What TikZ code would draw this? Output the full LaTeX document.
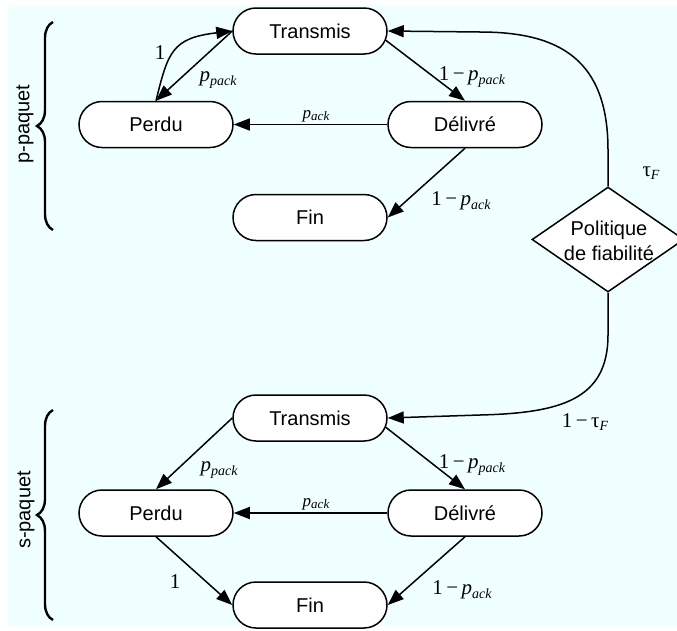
\documentclass[tikz,border=0pt]{standalone}
\usepackage{fontspec}
\setmainfont{Liberation Sans}
\newfontfamily\tms{Liberation Serif}
\usetikzlibrary{shapes.misc,shapes.geometric,arrows.meta,decorations.pathreplacing}

\definecolor{bgcyan}{HTML}{F0FFFF}

% probability labels: italic p with a lowered italic subscript
\newcommand\subs[1]{\raisebox{-0.35ex}{\fontsize{14}{14}\selectfont\itshape #1}}
\newcommand\smallsubs[1]{\raisebox{-0.3ex}{\fontsize{13}{13}\selectfont\itshape #1}}
\newcommand\pp[1]{{\itshape p}\subs{#1}}
\newcommand\tauF{τ\subs{F}}

\tikzset{
  state/.style={draw, line width=1.5pt, rounded rectangle, fill=white,
    minimum width=154, minimum height=46, inner sep=0pt,
    font=\fontsize{20}{24}\selectfont},
  policy/.style={draw, line width=1.5pt, diamond, fill=white,
    minimum width=152, minimum height=105, inner sep=0pt},
  policytext/.style={inner sep=0pt, align=center,
    font=\fontsize{20}{25}\selectfont},
  arr/.style={line width=1.5pt, -{Triangle[length=16,width=12]}},
  lbl/.style={inner sep=0pt, font=\tms\fontsize{21}{24}\selectfont},
  slbl/.style={inner sep=0pt, font=\tms\fontsize{17}{18}\selectfont},
  bracestyle/.style={line width=2.4pt, decorate, decoration={brace, amplitude=16}},
  grouplabel/.style={rotate=90, inner sep=0pt, font=\fontsize{20}{24}\selectfont}
}

\begin{document}
\begin{tikzpicture}[x=1pt, y=-1pt]
  \useasboundingbox (0,0) rectangle (677,630);
  \fill[bgcyan] (8,5) rectangle (677,626);

  % ---- p-paquet group ----
  \node[state] (T1) at (310,31)    {Transmis};
  \node[state] (P1) at (156,124.5) {Perdu};
  \node[state] (D1) at (465,124.5) {Délivré};
  \node[state] (F1) at (310,217.5) {Fin};

  % ---- s-paquet group ----
  \node[state] (T2) at (310,418) {Transmis};
  \node[state] (P2) at (156,513) {Perdu};
  \node[state] (D2) at (465,513) {Délivré};
  \node[state] (F2) at (310,605) {Fin};

  % ---- reliability policy ----
  \node[policy] (pol) at (608,239.5) {};
  \node[policytext] (poltxt) at (609,241) {Politique\\de fiabilité};

  % ---- group braces ----
  \coordinate (b1top) at (53,22);
  \coordinate (b1bot) at (53,230);
  \coordinate (b2top) at (53,410);
  \coordinate (b2bot) at (53,620);
  \draw[bracestyle] (b1bot) -- (b1top);
  \draw[bracestyle] (b2bot) -- (b2top);
  \node[grouplabel] (gp) at (25,124) {p-paquet};
  \node[grouplabel] (gs) at (26,510) {s-paquet};

  % ---- transitions, p-paquet ----
  \draw[arr] (T1.west) -- (P1.north);
  \draw[arr] (P1.north) .. controls (168,52) and (172,38) .. (T1.west);
  \draw[arr] (T1.-7) -- (D1.north);
  \draw[arr] (D1.west) -- (P1.east);
  \draw[arr] (D1.south) -- (F1.east);

  \node[lbl]  (l1)  at (160,53)  {1};
  \node[lbl]  (l2)  at (218,80)  {\pp{pack}};
  \node[lbl]  (l3)  at (472,77)  {1\,−\,\pp{pack}};
  \node[slbl] (l4)  at (316,116) {{\itshape p}\smallsubs{ack}};
  \node[lbl]  (l5)  at (461,201) {1\,−\,\pp{ack}};

  % ---- policy branches ----
  \draw[arr] (pol.north) -- (608,150) .. controls (608,60) and (560,32) .. (480,32) -- (T1.east);
  \draw[arr] (pol.south) -- (608,335) .. controls (608,400) and (560,413) .. (480,415) -- (T2.east);
  \node[lbl] (l6) at (651,173) {\tauF};
  \node[lbl] (l7) at (585,422) {1\,−\,\tauF};

  % ---- transitions, s-paquet ----
  \draw[arr] (T2.west) -- (P2.north);
  \draw[arr] (T2.-7) -- (D2.north);
  \draw[arr] (D2.west) -- (P2.east);
  \draw[arr] (P2.south) -- (F2.west);
  \draw[arr] (D2.south) -- (F2.east);

  \node[lbl]  (m1) at (219,470) {\pp{pack}};
  \node[lbl]  (m2) at (472,465) {1\,−\,\pp{pack}};
  \node[slbl] (m3) at (316,504) {{\itshape p}\smallsubs{ack}};
  \node[lbl]  (m4) at (175,582) {1};
  \node[lbl]  (m5) at (462,590) {1\,−\,\pp{ack}};
\end{tikzpicture}
\end{document}
